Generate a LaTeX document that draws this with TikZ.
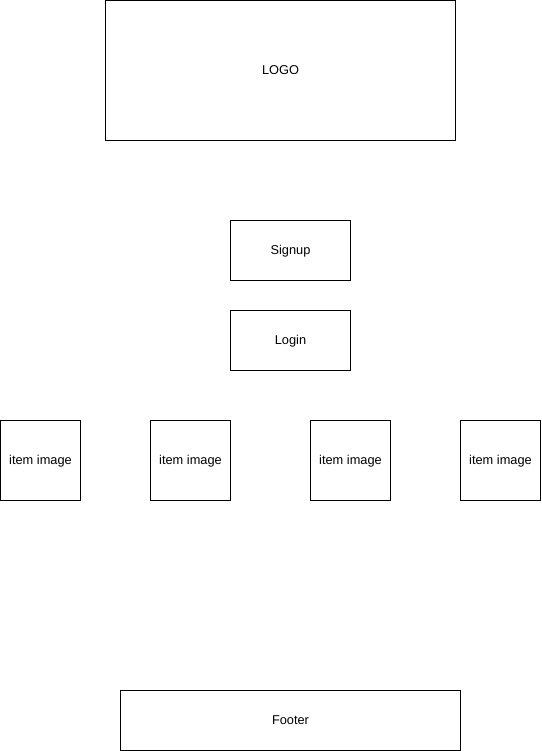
\documentclass[tikz,border=0pt]{standalone}
\usepackage{fontspec}
\setmainfont{Liberation Sans}
\begin{document}
\begin{tikzpicture}[x=1pt,y=-1pt,
    box/.style={draw,line width=1pt,inner sep=0pt,text height=10pt,text depth=2pt,
      font=\fontsize{12.8}{15}\selectfont},
    btn/.style={box,minimum width=120pt,minimum height=60pt},
    item/.style={box,minimum width=80pt,minimum height=80pt}]
  \useasboundingbox (0,0) rectangle (541,751);
  \node[box,minimum width=350pt,minimum height=140pt] (logo) at (280.5,70.5) {LOGO};
  \node[btn] (signup) at (290.5,250.5) {Signup}; \node[btn] (login) at (290.5,340.5) {Login};
  \node[item] (i1) at (40.5,460.5) {item image}; \node[item] (i2) at (190.5,460.5) {item image};
  \node[item] (i3) at (350.5,460.5) {item image}; \node[item] (i4) at (500.5,460.5) {item image};
  \node[box,minimum width=340pt,minimum height=60pt] (footer) at (290.5,720.5) {Footer};
\end{tikzpicture}
\end{document}
